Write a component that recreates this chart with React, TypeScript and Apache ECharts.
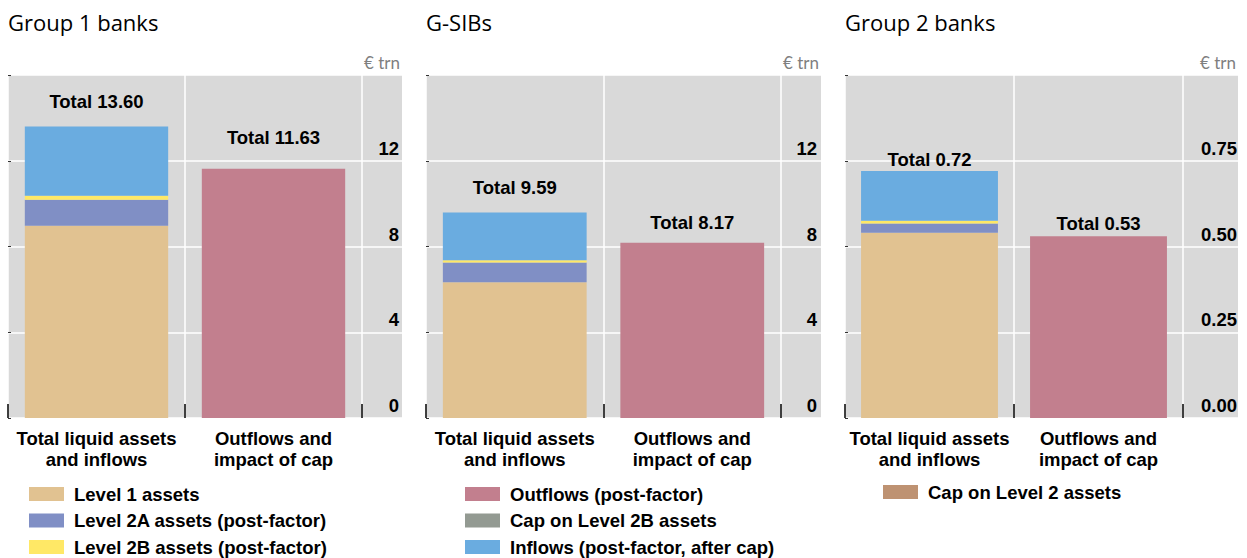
import React, { useEffect, useRef } from "react";
import * as echarts from "echarts";

// ---- data ----
const panelTitles = ["Group 1 banks", "G-SIBs", "Group 2 banks"];
const categories = ["Total liquid assets\nand inflows", "Outflows and\nimpact of cap"];
const level1 = [8.97, 6.33, 0.54];
const level2A = [1.21, 0.92, 0.027];
const level2B = [0.19, 0.11, 0.008];
const inflows = [3.23, 2.23, 0.145];
const outflows = [11.63, 8.17, 0.53];
const capL2B = [0, 0, 0];
const capL2 = [0, 0, 0];
const totalsAssets = [13.6, 9.59, 0.72];
const totalsOutflows = [11.63, 8.17, 0.53];
const yMax = [16, 16, 1];
const yInterval = [4, 4, 0.25];
const yDecimals = [0, 0, 2];
const unitLabel = "€ trn";

const legendCols = [
  ["Level 1 assets", "Level 2A assets (post-factor)", "Level 2B assets (post-factor)"],
  ["Outflows (post-factor)", "Cap on Level 2B assets", "Inflows (post-factor, after cap)"],
  ["Cap on Level 2 assets"],
];

// ---- style / layout ----
const COLORS: Record<string, string> = {
  "Level 1 assets": "#E1C291",
  "Level 2A assets (post-factor)": "#808FC5",
  "Level 2B assets (post-factor)": "#FFE866",
  "Inflows (post-factor, after cap)": "#6AACE0",
  "Outflows (post-factor)": "#C27F8E",
  "Cap on Level 2B assets": "#939A92",
  "Cap on Level 2 assets": "#BE9272",
};
const ARIAL = "'Liberation Sans', Arial, sans-serif";
const SANS = "'Open Sans', 'Noto Sans', sans-serif";
const FS = 18.5;
const panelLeft = [8, 426, 845];
const barRight = [362, 781, 1183];
const bgRight = [402, 821, 1238];
const TOP = 75;
const BOTTOM = 418;
const labelMargin = [37, 36, 54];
const assetsLabelGap = [15, 15, 2];
const outflowsLabelGap = [22, 11, 3];
const legendLeft = [29, 465, 883];
const legendTop = [484, 484, 482];

function buildOption() {
  const grid: any[] = [];
  const xAxis: any[] = [];
  const yAxis: any[] = [];
  const series: any[] = [];
  const graphic: any[] = [];
  const title: any[] = [];

  const totalLabel = (txt: string, gap: number) => ({
    show: true,
    position: "top",
    distance: gap,
    formatter: txt,
    fontSize: FS,
    fontWeight: "bold",
    fontFamily: ARIAL,
    color: "#000",
  });

  for (let p = 0; p < 3; p++) {
    const L = panelLeft[p];
    grid.push({
      left: L,
      top: TOP,
      width: bgRight[p] - L,
      height: BOTTOM - TOP,
      show: true,
      backgroundColor: "#D9D9D9",
      borderWidth: 0,
    });
    grid.push({ left: L, top: TOP, width: barRight[p] - L, height: BOTTOM - TOP });

    xAxis.push({ type: "value", gridIndex: 2 * p, show: false, min: 0, max: 1 });
    xAxis.push({
      type: "category",
      gridIndex: 2 * p + 1,
      data: categories,
      boundaryGap: true,
      axisLine: { show: false },
      axisTick: { show: true, inside: true, length: 14, lineStyle: { color: "#000", width: 1.5 } },
      splitLine: { show: true, lineStyle: { color: "#fff", width: 1.5 } },
      axisLabel: {
        margin: 10,
        fontSize: FS,
        fontWeight: "bold",
        fontFamily: ARIAL,
        color: "#000",
        lineHeight: 21,
        interval: 0,
      },
    });

    const max = yMax[p];
    const dec = yDecimals[p];
    yAxis.push({
      type: "value",
      gridIndex: 2 * p,
      min: 0,
      max,
      interval: yInterval[p],
      position: "left",
      axisLine: { show: false },
      axisLabel: { show: false },
      axisTick: { show: true, inside: true, length: 3, lineStyle: { color: "#333" } },
      splitLine: { show: true, lineStyle: { color: "#fff", width: 1.5 } },
    });
    yAxis.push({
      type: "value",
      gridIndex: 2 * p + 1,
      min: 0,
      max,
      interval: yInterval[p],
      position: "right",
      axisLine: { show: false },
      axisTick: { show: false },
      splitLine: { show: false },
      axisLabel: {
        margin: labelMargin[p],
        align: "right",
        verticalAlign: "bottom",
        padding: [0, 0, 3, 0],
        fontSize: FS,
        fontWeight: "bold",
        fontFamily: ARIAL,
        color: "#000",
        formatter: (v: number) => (v >= max - 1e-9 ? "" : v.toFixed(dec)),
      },
    });

    const common = {
      type: "bar",
      stack: "p" + p,
      xAxisIndex: 2 * p + 1,
      yAxisIndex: 2 * p + 1,
      barWidth: "81%",
    };
    const mk = (name: string, data: any[]) => ({
      ...common,
      name,
      data,
      itemStyle: { color: COLORS[name] },
    });
    series.push(mk("Level 1 assets", [level1[p], null]));
    series.push(mk("Level 2A assets (post-factor)", [level2A[p], null]));
    series.push(mk("Level 2B assets (post-factor)", [level2B[p], null]));
    series.push(
      mk("Inflows (post-factor, after cap)", [
        { value: inflows[p], label: totalLabel("Total " + totalsAssets[p].toFixed(2), assetsLabelGap[p]) },
        null,
      ])
    );
    series.push(
      mk("Outflows (post-factor)", [
        null,
        { value: outflows[p], label: totalLabel("Total " + totalsOutflows[p].toFixed(2), outflowsLabelGap[p]) },
      ])
    );
    series.push(mk("Cap on Level 2B assets", [null, capL2B[p]]));
    series.push(mk("Cap on Level 2 assets", [null, capL2[p]]));

    title.push({
      text: panelTitles[p],
      left: L,
      top: 9,
      padding: 0,
      textStyle: { fontSize: 22, fontWeight: "normal", fontFamily: SANS, color: "#000", lineHeight: 26 },
    });
    graphic.push({
      type: "text",
      x: bgRight[p] - 2,
      y: 62,
      style: {
        text: unitLabel,
        textAlign: "right",
        textVerticalAlign: "middle",
        fontSize: 17,
        fontFamily: "Lato, 'Noto Sans', sans-serif",
        fill: "#7F7F7F",
      },
    });
  }

  const legend = legendCols.map((cols, i) => ({
    data: cols,
    left: legendLeft[i],
    top: legendTop[i],
    orient: "vertical",
    icon: "rect",
    itemWidth: 35,
    itemHeight: 14,
    itemGap: 6.5,
    padding: 0,
    selectedMode: false,
    textStyle: {
      fontSize: FS,
      fontWeight: "bold",
      fontFamily: ARIAL,
      color: "#000",
      lineHeight: 20,
      padding: [0, 0, 0, 5],
    },
  }));

  return { animation: false, title, grid, xAxis, yAxis, series, legend, graphic };
}

export default function App() {
  const ref = useRef<HTMLDivElement>(null);
  useEffect(() => {
    if (!ref.current) return;
    const chart = echarts.init(ref.current, undefined, { renderer: "svg" });
    chart.setOption(buildOption() as any);
    return () => chart.dispose();
  }, []);
  return (
    <div
      ref={ref}
      style={{ position: "fixed", left: 0, top: 0, width: 1247, height: 558, background: "#fff" }}
    />
  );
}
